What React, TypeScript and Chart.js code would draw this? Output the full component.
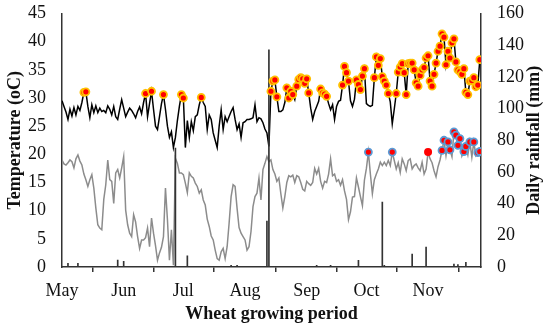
import { useEffect, useRef } from 'react';
import { Chart, registerables } from 'chart.js';

Chart.register(...registerables);

const FONT = "'Liberation Serif', 'Times New Roman', serif";

// x axis: day index counted from 1 May
const monthLabels = ['May', 'Jun', 'Jul', 'Aug', 'Sep', 'Oct', 'Nov'];
const monthStartDays = [0, 31, 61, 92, 123, 153, 184];
const lastDay = 210.6;

// daily maximum temperature (oC), day 0 = 1 May
const maxTemp = [
  29.5, 28.5, 27.5, 26.2, 28.0, 26.8, 28.3, 27.0, 28.5, 27.8,
  29.2, 31.0, 31.1, 28.5, 26.5, 28.8, 27.4, 28.6, 27.4, 28.2,
  27.6, 27.8, 27.4, 28.6, 28.0, 27.0, 28.5, 26.7, 26.2, 28.0,
  29.7, 28.2, 26.7, 27.5, 28.2, 27.8, 27.2, 26.5, 27.6, 28.4,
  27.2, 29.2, 30.8, 26.7, 29.0, 31.2, 28.0, 25.0, 24.4, 26.7,
  29.0, 30.6, 28.0, 25.0, 23.0, 24.0, 21.2, 23.0, 26.0, 28.5,
  30.6, 30.0, 21.2, 26.0, 23.0, 25.8, 24.2, 26.7, 27.0, 28.8,
  30.1, 29.2, 28.5, 24.4, 27.0, 26.2, 23.8, 22.5, 21.2, 25.0,
  27.9, 24.4, 26.7, 25.8, 26.7, 27.6, 28.3, 26.2, 24.4, 25.4,
  23.0, 25.6, 25.8, 26.2, 26.2, 26.3, 26.5, 28.8, 25.8, 26.5,
  26.3, 25.6, 24.5, 23.8, 21.4, 31.2, 33.0, 33.2, 30.2, 27.6,
  27.6, 27.9, 29.2, 31.8, 30.0, 31.2, 30.6, 29.7, 32.1, 33.3,
  33.6, 33.4, 32.6, 33.4, 30.9, 28.2, 26.2, 27.6, 28.5, 29.4,
  31.6, 30.9, 30.7, 30.3, 29.0, 27.9, 28.8, 26.2, 28.5, 29.4,
  29.6, 32.3, 35.6, 34.5, 33.0, 29.5, 28.5, 29.8, 33.2, 32.4,
  31.5, 33.9, 35.2, 29.0, 28.7, 28.5, 28.7, 33.6, 37.3, 35.8,
  37.0, 33.8, 33.0, 32.3, 30.8, 29.3, 25.4, 28.0, 30.8, 34.6,
  35.5, 36.1, 34.5, 30.6, 36.1, 36.2, 36.2, 35.0, 32.7, 32.1,
  34.0, 35.0, 35.4, 37.1, 37.5, 33.0, 32.1, 34.2, 36.2, 38.3,
  39.2, 41.4, 40.8, 35.9, 38.3, 37.1, 39.8, 40.5, 36.4, 35.0,
  34.7, 34.2, 35.2, 31.0, 30.6, 33.0, 33.1, 33.6, 32.0, 32.3,
  36.8,
];

// daily minimum temperature (oC)
const minTemp = [
  19.0, 18.3, 18.1, 18.5, 19.0, 18.7, 17.6, 19.2, 19.9, 18.8,
  18.1, 16.5, 15.5, 14.3, 15.5, 16.4, 14.0, 10.5, 7.5, 6.9,
  6.6, 12.0, 14.6, 19.0, 15.5, 15.2, 11.3, 16.7, 17.3, 15.8,
  17.6, 19.6, 10.1, 7.5, 6.0, 5.4, 9.3, 8.0, 5.4, 3.3,
  4.8, 4.8, 5.2, 6.9, 3.6, 8.7, 6.0, 3.8, 1.2, 2.5,
  3.5, 5.4, 14.0, 8.4, 1.2, 6.6, 0.3, 19.3, 18.4, 16.7,
  16.7, 16.4, 14.9, 13.2, 16.7, 16.1, 15.8, 14.9, 14.3, 13.1,
  13.7, 11.9, 11.0, 8.5, 7.2, 5.5, 4.8, 3.0, 1.5, 1.2,
  2.7, 3.3, 1.5, 3.6, 7.8, 12.5, 14.6, 14.3, 10.4, 7.0,
  6.0, 5.4, 4.8, 3.0, 3.6, 6.3, 10.7, 12.5, 13.1, 15.8,
  11.9, 17.3, 18.4, 19.6, 18.7, 19.0, 17.3, 16.5, 15.2, 15.8,
  13.0, 10.5, 12.5, 15.0, 16.2, 16.0, 16.3, 15.0, 16.2, 16.0,
  15.0, 13.8, 13.5, 15.2, 14.8, 14.5, 15.0, 17.5, 16.5, 17.5,
  15.2, 14.0, 15.2, 15.0, 16.5, 19.2, 16.2, 16.5, 15.2, 15.5,
  14.5, 15.5, 13.5, 12.0, 8.4, 9.8, 12.4, 12.5, 15.8, 14.2,
  12.5, 10.9, 15.4, 17.5, 20.4, 16.5, 13.0, 15.5, 16.5, 17.4,
  18.6, 18.0, 18.6, 18.0, 18.9, 18.0, 20.4, 18.9, 17.4, 18.5,
  16.8, 19.2, 18.3, 17.1, 18.9, 19.2, 17.4, 18.0, 18.3, 17.6,
  17.1, 18.6, 16.5, 17.4, 20.4, 19.2, 18.5, 17.1, 16.0, 17.8,
  19.0, 20.7, 22.5, 19.8, 22.2, 20.8, 19.6, 24.0, 23.4, 21.6,
  22.8, 19.7, 20.5, 21.4, 19.9, 22.2, 19.5, 22.2, 19.8, 20.3,
  20.5,
];

// daily rainfall (mm)
const rainDays = [3, 8, 28, 31, 57, 63, 85, 88, 103, 104, 128, 135, 149, 161, 162, 176, 183, 197, 199, 203];
const rainMm = [2.3, 2.3, 4.4, 3.6, 75, 7, 1, 1, 29, 137, 1, 1, 4.2, 41, 1, 8.2, 12.5, 1.9, 1.5, 3];

// marker rules
const hotDayThreshold = 30;
const warmNightThreshold = 20;
const minRedOnlyDays = [184];

const rightTitlePlugin = {
  id: 'rightTitle',
  afterDraw(chart: any) {
    const { ctx, chartArea } = chart;
    ctx.save();
    ctx.translate(534, (chartArea.top + chartArea.bottom) / 2);
    ctx.rotate(-Math.PI / 2);
    ctx.font = `bold 18px ${FONT}`;
    ctx.fillStyle = '#111';
    ctx.textAlign = 'center';
    ctx.textBaseline = 'middle';
    ctx.fillText('Daily rainfall (mm)', 0, 0);
    ctx.restore();
  },
};

export default function App() {
  const ref = useRef<HTMLCanvasElement | null>(null);

  useEffect(() => {
    document.body.style.margin = '0';
    const canvas = ref.current;
    if (!canvas) return;

    const maxPts = maxTemp.map((v, i) => ({ x: i, y: v }));
    const minPts = minTemp.map((v, i) => ({ x: i, y: v }));
    const hotPts = maxPts.filter((p) => p.y >= hotDayThreshold);
    const bluePts = minPts.filter((p) => p.y >= warmNightThreshold && !minRedOnlyDays.includes(p.x));
    const redPts = minPts.filter((p) => minRedOnlyDays.includes(p.x));
    const rainPts = rainDays.map((d, i) => ({ x: d, y: rainMm[i] }));

    const tickFont = { family: FONT, size: 18 };
    const titleFont = { family: FONT, size: 18, weight: 'bold' as const };

    const chart = new Chart(canvas, {
      type: 'line',
      data: {
        datasets: [
          {
            type: 'line',
            label: 'max markers',
            data: hotPts,
            showLine: false,
            pointRadius: 3.5,
            pointBorderWidth: 1.8,
            pointBackgroundColor: '#ff0000',
            pointBorderColor: '#ffc000',
            yAxisID: 'y',
            order: 0,
          },
          {
            type: 'line',
            label: 'min markers',
            data: bluePts,
            showLine: false,
            pointRadius: 3.5,
            pointBorderWidth: 1.8,
            pointBackgroundColor: '#ff0000',
            pointBorderColor: '#5b9bd5',
            yAxisID: 'y',
            order: 0,
          },
          {
            type: 'line',
            label: 'min red',
            data: redPts,
            showLine: false,
            pointRadius: 4,
            pointBorderWidth: 0,
            pointBackgroundColor: '#ff0000',
            pointBorderColor: '#ff0000',
            yAxisID: 'y',
            order: 0,
          },
          {
            type: 'bar',
            label: 'Rainfall',
            data: rainPts as any,
            backgroundColor: '#333333',
            barThickness: 1,
            yAxisID: 'y2',
            order: 1,
          },
          {
            type: 'line',
            label: 'Tmax',
            data: maxPts,
            borderColor: '#000000',
            borderWidth: 1.5,
            pointRadius: 0,
            tension: 0,
            yAxisID: 'y',
            order: 2,
          },
          {
            type: 'line',
            label: 'Tmin',
            data: minPts,
            borderColor: '#8c8c8c',
            borderWidth: 1.5,
            pointRadius: 0,
            tension: 0,
            yAxisID: 'y',
            order: 3,
          },
        ] as any,
      },
      options: {
        animation: false,
        responsive: false,
        maintainAspectRatio: false,
        layout: { padding: { top: 13.5, left: 0, right: 0, bottom: 0 } },
        plugins: { legend: { display: false }, tooltip: { enabled: false } },
        scales: {
          x: {
            type: 'linear',
            min: 0,
            max: lastDay,
            offset: false,
            afterBuildTicks: (scale: any) => {
              scale.ticks = monthStartDays.map((v) => ({ value: v }));
            },
            afterFit: (scale: any) => {
              scale.height = 61;
            },
            ticks: {
              autoSkip: false,
              maxRotation: 0,
              padding: 8,
              color: '#111',
              font: tickFont,
              callback: (v: any) => {
                const i = monthStartDays.indexOf(Number(v));
                return i >= 0 ? monthLabels[i] : '';
              },
            },
            grid: { drawOnChartArea: false, drawTicks: true, tickLength: 5, color: '#333', lineWidth: 1.5 },
            border: { display: true, color: '#333', width: 1.5 },
            title: {
              display: true,
              text: 'Wheat growing period',
              color: '#111',
              font: titleFont,
              padding: { top: 0, bottom: 3 },
            },
          },
          y: {
            type: 'linear',
            position: 'left',
            min: 0,
            max: 45,
            afterFit: (scale: any) => {
              scale.width = 62;
            },
            ticks: { stepSize: 5, padding: 0, color: '#111', font: tickFont },
            grid: { drawOnChartArea: false, drawTicks: true, tickLength: 16, color: 'rgba(0,0,0,0)' },
            border: { display: true, color: '#333', width: 1.5 },
            title: {
              display: true,
              text: 'Temperature (oC)',
              color: '#111',
              font: titleFont,
              padding: { top: 5, bottom: 0 },
            },
          },
          y2: {
            type: 'linear',
            position: 'right',
            min: 0,
            max: 160,
            afterFit: (scale: any) => {
              scale.width = 69;
            },
            ticks: { stepSize: 20, padding: 0, color: '#111', font: tickFont },
            grid: { drawOnChartArea: false, drawTicks: true, tickLength: 16, color: 'rgba(0,0,0,0)' },
            border: { display: true, color: '#333', width: 1.5 },
          },
        },
      } as any,
      plugins: [rightTitlePlugin],
    });

    return () => chart.destroy();
  }, []);

  return (
    <div style={{ width: 550, height: 328, background: '#fff' }}>
      <canvas ref={ref} width={550} height={328} style={{ display: 'block' }} />
    </div>
  );
}
